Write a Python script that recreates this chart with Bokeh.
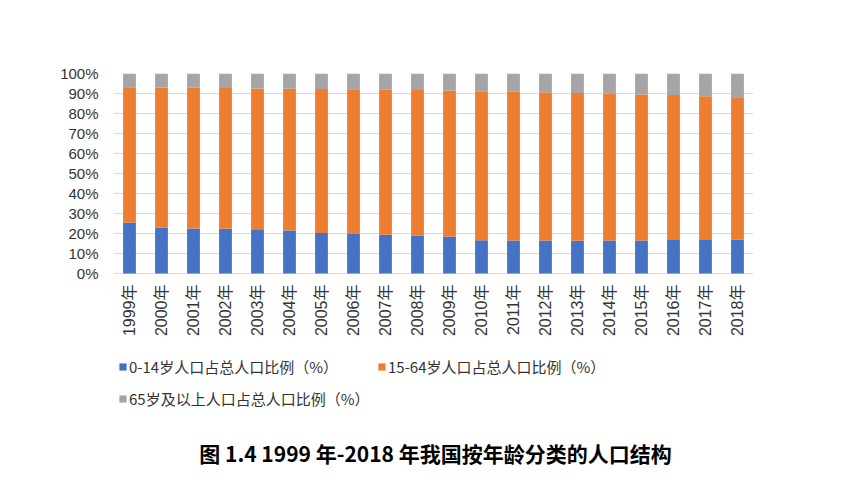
import math
from bokeh.plotting import figure
from bokeh.models import (ColumnDataSource, FactorRange, Range1d, FixedTicker,
                          NumeralTickFormatter, Legend, LegendItem, Label, LabelSet)
from bokeh.core.properties import value
from bokeh.embed import file_html
from bokeh.resources import INLINE

years = ["1999年", "2000年", "2001年", "2002年", "2003年", "2004年", "2005年",
         "2006年", "2007年", "2008年", "2009年", "2010年", "2011年", "2012年",
         "2013年", "2014年", "2015年", "2016年", "2017年", "2018年"]
age_0_14 = [25.4, 22.9, 22.5, 22.4, 22.1, 21.5, 20.3, 19.8, 19.4, 19.0,
            18.5, 16.6, 16.5, 16.5, 16.4, 16.5, 16.5, 16.7, 16.8, 16.9]
age_15_64 = [67.7, 70.1, 70.4, 70.3, 70.4, 70.9, 72.0, 72.3, 72.5, 72.7,
             73.0, 74.5, 74.4, 74.1, 73.9, 73.4, 73.0, 72.5, 71.8, 71.2]
age_65 = [6.9, 7.0, 7.1, 7.3, 7.5, 7.6, 7.7, 7.9, 8.1, 8.3,
          8.5, 8.9, 9.1, 9.4, 9.7, 10.1, 10.5, 10.8, 11.4, 11.9]
series_names = ["0-14岁人口占总人口比例（%）", "15-64岁人口占总人口比例（%）",
                "65岁及以上人口占总人口比例（%）"]
colors = ["#4472C4", "#ED7D31", "#A5A5A5"]
y_ticks = [0, 0.1, 0.2, 0.3, 0.4, 0.5, 0.6, 0.7, 0.8, 0.9, 1.0]
caption = "图 1.4 1999 年-2018 年我国按年龄分类的人口结构"

source = ColumnDataSource(dict(
    year=years,
    a=[v / 100 for v in age_0_14],
    b=[v / 100 for v in age_15_64],
    c=[v / 100 for v in age_65],
))

FRAME_H = 400          # 200 px per 100 %, extra space below 0 for labels/legend
p = figure(frame_width=640, frame_height=FRAME_H, x_range=FactorRange(*years),
           y_range=Range1d(1 - FRAME_H / 200, 1), x_axis_location=None,
           output_backend="svg", toolbar_location=None,
           min_border_left=113, min_border_right=100, min_border_top=73,
           min_border_bottom=0)
p.outline_line_color = None
p.background_fill_color = "white"
p.border_fill_color = "white"

renderers = p.vbar_stack(["a", "b", "c"], x="year", width=0.4, color=colors,
                         source=source, line_color=None)

# grid & y axis
p.xgrid.grid_line_color = None
p.ygrid.grid_line_color = "#D9D9D9"
p.ygrid.grid_line_width = 1
p.ygrid.ticker = FixedTicker(ticks=y_ticks)

p.yaxis.ticker = FixedTicker(ticks=y_ticks)
p.yaxis.formatter = NumeralTickFormatter(format="0%")
p.yaxis.axis_line_color = None
p.yaxis.major_tick_line_color = None
p.yaxis.minor_tick_line_color = None
p.yaxis.major_tick_out = 0
p.yaxis.major_label_standoff = 15
p.yaxis.major_label_text_font = "Liberation Sans"
p.yaxis.major_label_text_font_size = "15px"
p.yaxis.major_label_text_color = "#333333"

# category labels (vertical, reading bottom to top)
xlabels = LabelSet(x="year", y=value(0), text="year", source=source,
                   angle=math.pi / 2, text_align="right", text_baseline="middle",
                   y_offset=-11, text_font=value("Liberation Sans, Noto Sans CJK SC"),
                   text_font_size="16px", text_color="#333333")
p.add_layout(xlabels)

# legends
def make_legend(items, loc, spacing):
    return Legend(items=items, location=loc, orientation="horizontal",
                  padding=0, margin=0, spacing=spacing,
                  glyph_width=9, glyph_height=9, label_standoff=2,
                  label_text_font="Noto Sans CJK SC", label_text_font_size="15px",
                  label_text_color="#333333", background_fill_alpha=0,
                  border_line_color=None, label_height=18)

lg1 = make_legend([LegendItem(label=series_names[0], renderers=[renderers[0]]),
                   LegendItem(label=series_names[1], renderers=[renderers[1]])],
                  (5, 96), 39)
lg2 = make_legend([LegendItem(label=series_names[2], renderers=[renderers[2]])],
                  (5, 64), 10)
p.add_layout(lg1)
p.add_layout(lg2)

title = Label(x=322, y=21, x_units="screen", y_units="screen", text=caption,
              text_align="center", text_baseline="middle",
              text_font="Noto Sans CJK SC", text_font_style="bold",
              text_font_size="21px", text_color="#000000")
p.add_layout(title)

open("out.html", "w").write(file_html(p, INLINE))
